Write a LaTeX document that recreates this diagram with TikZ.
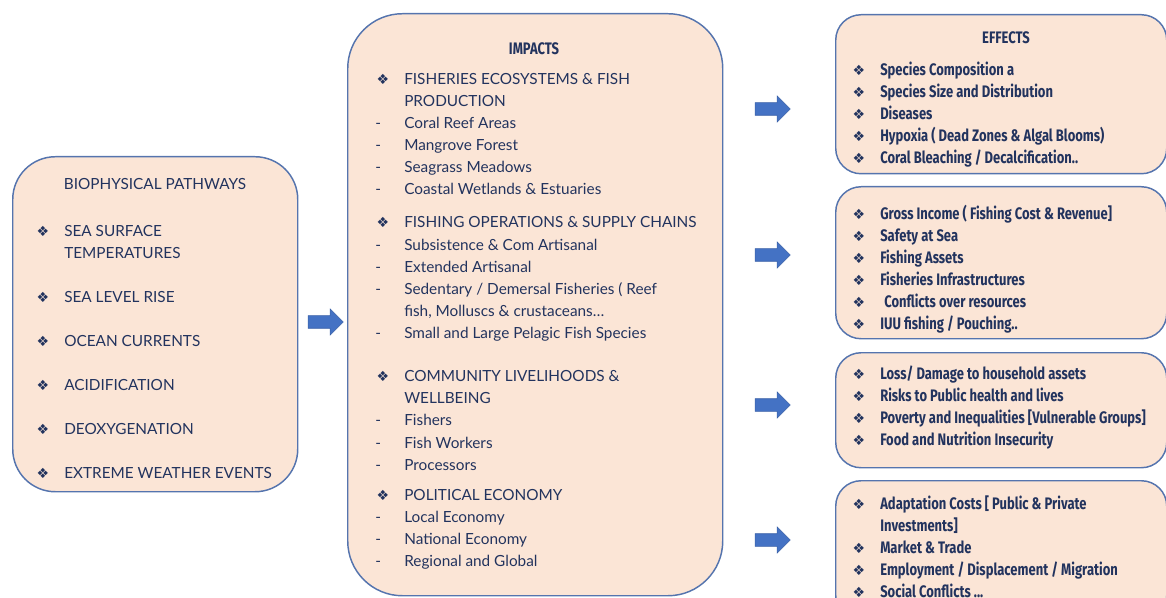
\documentclass[tikz,border=0pt]{standalone}
\usepackage{fontspec}
\setmainfont{Lato}
\newfontfamily\effont[FakeStretch=0.78]{Fira Sans}
\newfontfamily\symfont{DejaVu Sans}
\usetikzlibrary{shapes.arrows}

\definecolor{boxfill}{HTML}{FBE5D6}
\definecolor{boxline}{HTML}{5574AE}
\definecolor{txtblue}{HTML}{22335E}
\definecolor{arrblue}{HTML}{4472C4}

% line starts: bullet, dash, indent
\newcommand{\dia}{{\symfont\fontsize{10.5pt}{10.5pt}\selectfont ❖}}
\newcommand{\bu}{\makebox[21.75pt][l]{\hspace{1pt}\dia}}
\newcommand{\da}{\makebox[21.75pt][l]{-}}
\newcommand{\ind}{\hspace*{21.75pt}}
\newcommand{\tstrut}{\rule{0pt}{10pt}}

\begin{document}
\begin{tikzpicture}[x=0.75pt, y=-0.75pt,
  box/.style={draw=boxline, line width=1.1pt, fill=boxfill, inner sep=0pt, anchor=north west},
  txt/.style={inner sep=0pt, anchor=north west, align=left, text=txtblue, font=\fontsize{11.5pt}{16.6pt}\selectfont},
  eff/.style={txt, font=\effont\bfseries\fontsize{12.5pt}{16.5pt}\selectfont},
  blockarr/.style={single arrow, fill=arrblue, draw=arrblue!85!black, line width=0.4pt, inner xsep=0pt, inner ysep=4.5pt, single arrow head extend=5pt, minimum height=26.25pt}]
\useasboundingbox (0,0) rectangle (1166,598);

% boxes
\node[box, rounded corners=32pt, minimum width=213.75pt, minimum height=251.25pt] (bio) at (12,156) {};
\node[box, rounded corners=41pt, minimum width=281.25pt, minimum height=436.5pt] (imp) at (347,13) {};
\node[box, rounded corners=19pt, minimum width=248.25pt, minimum height=119.25pt] (eff1) at (835,14) {};
\node[box, rounded corners=19pt, minimum width=248.25pt, minimum height=114pt] (eff2) at (835,186) {};
\node[box, rounded corners=19pt, minimum width=248.25pt, minimum height=86.25pt] (eff3) at (835,352) {};
\node[box, rounded corners=19pt, minimum width=248.25pt, minimum height=105pt] (eff4) at (835,480) {};

% arrows
\node[blockarr] (arr0) at (322.5,322) {};
\node[blockarr] (arr1) at (769.5,109) {};
\node[blockarr] (arr2) at (769.5,255) {};
\node[blockarr] (arr3) at (769.5,405) {};
\node[blockarr] (arr4) at (769.5,540) {};

% pathways
\node[txt, anchor=center] (biot) at (155,184) {BIOPHYSICAL PATHWAYS};
\node[txt] (biol) at (35,222.7) {\tstrut\bu SEA SURFACE\\
  \ind TEMPERATURES\\[16.4pt]
  \bu SEA LEVEL RISE\\[16.4pt]
  \bu OCEAN CURRENTS\\[16.4pt]
  \bu ACIDIFICATION\\[16.4pt]
  \bu DEOXYGENATION\\[16.4pt]
  \bu EXTREME WEATHER EVENTS};

% impacts
\node[eff, anchor=center] (impt) at (534,49) {IMPACTS};
\node[txt] (impl) at (375,70.5) {\tstrut\bu FISHERIES ECOSYSTEMS \& FISH\\
  \ind PRODUCTION\\
  \da Coral Reef Areas\\
  \da Mangrove Forest\\
  \da Seagrass Meadows\\
  \da Coastal Wetlands \& Estuaries\\[8.25pt]
  \bu FISHING OPERATIONS \& SUPPLY CHAINS\\
  \da Subsistence \& Com Artisanal\\
  \da Extended Artisanal\\
  \da Sedentary / Demersal Fisheries ( Reef\\
  \ind fish, Molluscs \& crustaceans…\\
  \da Small and Large Pelagic Fish Species\\[15.75pt]
  \bu COMMUNITY LIVELIHOODS \&\\
  \ind WELLBEING\\
  \da Fishers\\
  \da Fish Workers\\
  \da Processors\\[6pt]
  \bu POLITICAL ECONOMY\\
  \da Local Economy\\
  \da National Economy\\
  \da Regional and Global};

% effects
\node[eff, anchor=center] (efft) at (1006,38) {EFFECTS};
\node[eff] (effl1) at (851,61.7) {\tstrut\bu Species Composition a\\
  \bu Species Size and Distribution\\
  \bu Diseases\\
  \bu Hypoxia ( Dead Zones \& Algal Blooms)\\
  \bu Coral Bleaching / Decalcification..};
\node[eff] (effl2) at (851,204.7) {\tstrut\bu Gross Income ( Fishing Cost \& Revenue]\\
  \bu Safety at Sea\\
  \bu Fishing Assets\\
  \bu Fisheries Infrastructures\\
  \bu\hspace{3pt}Conflicts over resources\\
  \bu IUU fishing / Pouching..};
\node[eff] (effl3) at (851,365.7) {\tstrut\bu Loss/ Damage to household assets\\
  \bu Risks to Public health and lives\\
  \bu Poverty and Inequalities [Vulnerable Groups]\\
  \bu Food and Nutrition Insecurity};
\node[eff] (effl4) at (851,495.7) {\tstrut\bu Adaptation Costs [ Public \& Private\\
  \ind Investments]\\
  \bu Market \& Trade\\
  \bu Employment / Displacement / Migration\\
  \bu Social Conflicts ...};
\end{tikzpicture}
\end{document}
